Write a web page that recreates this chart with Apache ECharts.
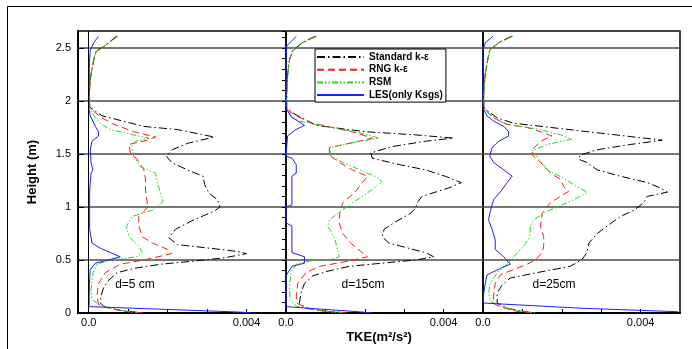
<!DOCTYPE html>
<html>
<head>
<meta charset="utf-8">
<script src="https://cdn.jsdelivr.net/npm/echarts@6/dist/echarts.min.js"></script>
<style>
html, body { margin: 0; background: #fff; }
#chart { width: 692px; height: 349px; }
</style>
</head>
<body>
<div id="chart"></div>
<script>
var models = ['Standard k-ε', 'RNG k-ε', 'RSM', 'LES(only Ksgs)'];
var panelNames = ['d=5 cm', 'd=15cm', 'd=25cm'];
var tkeTicks = [0, 0.001, 0.002, 0.003, 0.004];
var tkeLabels = [0, 0.004];

// [TKE in 1e-3 m2/s2, height in m]
var std5 = [[0.7,2.61],[0.54,2.56],[0.33,2.5],[0.19,2.47],[0.13,2.39],[0.085,2.3],[0.04,2.2],[0.02,2.08],[0.03,1.94],
  [0.34,1.86],[1.4,1.76],[2.25,1.73],[3.18,1.66],[2.5,1.6],[2.12,1.54],[1.97,1.48],[2.1,1.42],[2.5,1.35],[2.9,1.29],
  [2.94,1.21],[3.05,1.13],[3.26,1.07],[3.33,1.0],[3.18,0.96],[2.67,0.88],[2.2,0.79],[2.03,0.71],[2.25,0.645],[3.1,0.61],
  [3.77,0.58],[4.0,0.56],[3.43,0.52],[2.67,0.49],[1.82,0.46],[1.14,0.42],[0.72,0.38],[0.51,0.31],[0.38,0.24],[0.31,0.16],
  [0.3,0.094],[0.38,0.063],[0.72,0.03],[1.23,0.006]];
var rng5 = [[0.72,2.61],[0.55,2.56],[0.34,2.5],[0.19,2.47],[0.13,2.39],[0.085,2.3],[0.04,2.2],[0.02,2.08],[0.02,1.94],
  [0.13,1.9],[0.34,1.84],[0.64,1.78],[1.14,1.71],[1.7,1.66],[1.48,1.63],[1.02,1.59],[1.06,1.51],[1.23,1.45],[1.4,1.35],
  [1.44,1.26],[1.44,1.16],[1.5,1.0],[1.4,0.96],[1.27,0.91],[1.27,0.82],[1.36,0.72],[1.61,0.66],[2.0,0.6],[2.1,0.56],
  [1.4,0.5],[0.8,0.46],[0.42,0.38],[0.25,0.28],[0.21,0.16],[0.25,0.08],[0.47,0.05],[0.89,0.016],[1.4,0.0]];
var rsm5 = [[0.74,2.61],[0.56,2.56],[0.35,2.5],[0.2,2.47],[0.12,2.39],[0.08,2.3],[0.04,2.2],[0.02,2.08],[0.02,1.95],
  [0.04,1.92],[0.13,1.86],[0.3,1.79],[0.55,1.73],[1.14,1.68],[1.53,1.65],[1.19,1.62],[1.1,1.57],[1.14,1.48],[1.31,1.38],
  [1.69,1.32],[1.74,1.23],[1.82,1.13],[1.89,1.05],[1.61,0.97],[1.1,0.91],[0.96,0.82],[1.02,0.72],[1.27,0.63],[1.36,0.57],
  [1.23,0.53],[0.55,0.5],[0.21,0.46],[0.11,0.38],[0.06,0.22],[0.085,0.126],[0.3,0.07],[0.72,0.03],[1.23,0.0]];
var les5 = [[0.25,2.61],[0.13,2.55],[0.04,2.48],[0.02,2.36],[0.01,2.1],[0.0,1.94],[0.04,1.86],[0.17,1.76],[0.25,1.71],
  [0.25,1.67],[0.085,1.62],[0.04,1.54],[0.06,1.42],[0.11,1.35],[0.06,1.32],[0.025,1.16],[0.025,0.79],[0.085,0.66],
  [0.3,0.61],[0.55,0.57],[0.8,0.53],[0.85,0.52],[0.5,0.5],[0.17,0.47],[0.04,0.41],[0.02,0.28],[0.01,0.06],[3.6,0.012],[4.1,0.003]];

var std15 = [[0.74,2.61],[0.41,2.55],[0.25,2.5],[0.16,2.47],[0.09,2.39],[0.045,2.26],[0.02,2.1],[0.02,1.94],
  [0.13,1.9],[0.3,1.86],[0.55,1.81],[0.76,1.77],[2.02,1.71],[3.29,1.68],[4.25,1.65],[3.54,1.62],[2.7,1.57],[2.15,1.51],
  [2.19,1.46],[2.87,1.4],[3.54,1.35],[4.04,1.29],[4.45,1.23],[4.13,1.18],[3.45,1.1],[3.33,1.04],[3.29,0.99],[3.16,0.94],
  [2.78,0.86],[2.49,0.79],[2.44,0.72],[2.61,0.66],[3.12,0.61],[3.54,0.57],[3.75,0.53],[3.29,0.5],[2.44,0.47],[1.6,0.44],
  [1.01,0.39],[0.68,0.35],[0.47,0.28],[0.38,0.19],[0.34,0.094],[0.51,0.047],[1.01,0.016],[1.6,0.0]];
var rng15 = [[0.76,2.61],[0.42,2.55],[0.26,2.5],[0.17,2.47],[0.09,2.39],[0.045,2.26],[0.02,2.1],[0.0,1.94],
  [0.09,1.9],[0.26,1.86],[0.68,1.79],[1.18,1.75],[1.77,1.7],[2.19,1.65],[1.6,1.6],[1.1,1.56],[1.1,1.49],[1.35,1.42],
  [1.69,1.35],[2.07,1.29],[1.94,1.23],[1.73,1.13],[1.44,1.04],[1.37,0.96],[1.35,0.85],[1.44,0.75],[1.64,0.66],[1.9,0.58],
  [2.07,0.53],[1.6,0.49],[0.85,0.44],[0.51,0.38],[0.3,0.28],[0.26,0.16],[0.27,0.094],[0.51,0.047],[1.01,0.016],[1.6,0.0]];
var rsm15 = [[0.78,2.61],[0.43,2.55],[0.27,2.5],[0.17,2.47],[0.09,2.39],[0.045,2.26],[0.02,2.1],[0.01,1.95],
  [0.02,1.92],[0.13,1.86],[0.34,1.81],[1.01,1.76],[1.77,1.71],[2.36,1.65],[1.6,1.6],[1.1,1.56],[1.14,1.48],[1.44,1.42],
  [1.94,1.34],[2.36,1.27],[2.43,1.24],[2.28,1.19],[2.02,1.12],[1.69,1.04],[1.39,0.96],[1.1,0.88],[1.06,0.82],[1.22,0.72],
  [1.31,0.6],[1.35,0.53],[1.18,0.51],[0.59,0.49],[0.26,0.46],[0.13,0.39],[0.09,0.25],[0.1,0.126],[0.26,0.063],[0.76,0.025],[1.43,0.0]];
var les15 = [[0.26,2.61],[0.13,2.56],[0.02,2.52],[0.0,2.4],[0.0,1.95],[0.02,1.92],[0.13,1.85],[0.47,1.77],[0.25,1.73],
  [0.04,1.67],[0.0,1.48],[0.15,1.46],[0.26,1.4],[0.26,1.32],[0.15,1.29],[0.15,1.02],[0.0,1.0],[0.0,0.85],[0.15,0.82],
  [0.15,0.57],[0.47,0.53],[0.47,0.47],[0.15,0.44],[0.0,0.35],[0.0,0.06],[1.9,0.01],[2.2,0.0]];

var std25 = [[0.72,2.61],[0.4,2.55],[0.17,2.48],[0.12,2.39],[0.06,2.26],[0.02,2.1],[0.02,1.94],
  [0.14,1.9],[0.36,1.84],[0.78,1.79],[4.55,1.63],[3.75,1.59],[2.9,1.54],[2.47,1.49],[2.43,1.45],[2.64,1.42],[2.9,1.35],
  [3.49,1.29],[4.17,1.23],[4.5,1.18],[4.68,1.14],[4.17,1.1],[4.08,1.04],[3.83,0.97],[3.49,0.91],[3.15,0.82],[2.9,0.75],
  [2.69,0.66],[2.64,0.57],[2.5,0.5],[2.21,0.44],[1.36,0.38],[0.69,0.33],[0.48,0.26],[0.36,0.19],[0.36,0.094],[0.61,0.047],
  [0.95,0.016],[1.37,0.0]];
var rng25 = [[0.74,2.61],[0.4,2.55],[0.17,2.48],[0.12,2.39],[0.06,2.26],[0.02,2.1],[0.02,1.94],
  [0.1,1.9],[0.27,1.84],[0.61,1.78],[1.12,1.75],[1.54,1.7],[1.75,1.67],[1.46,1.62],[1.25,1.54],[1.25,1.49],[1.46,1.42],
  [1.71,1.32],[1.97,1.26],[2.05,1.19],[2.18,1.15],[1.97,1.1],[1.71,1.04],[1.5,0.94],[1.46,0.82],[1.54,0.72],[1.54,0.63],
  [1.5,0.57],[1.33,0.5],[1.12,0.46],[0.78,0.41],[0.44,0.36],[0.31,0.28],[0.27,0.16],[0.25,0.094],[0.44,0.057],[0.86,0.016],[1.29,0.0]];
var rsm25 = [[0.76,2.61],[0.41,2.55],[0.18,2.48],[0.12,2.39],[0.06,2.26],[0.02,2.1],[0.02,1.95],
  [0.14,1.89],[0.36,1.82],[0.61,1.78],[1.46,1.73],[1.97,1.68],[2.26,1.64],[1.63,1.59],[1.25,1.53],[1.42,1.45],[1.63,1.35],
  [2.05,1.27],[2.39,1.19],[2.64,1.14],[2.47,1.1],[2.14,1.04],[1.63,0.96],[1.29,0.88],[1.2,0.82],[1.19,0.72],[1.03,0.63],
  [0.78,0.53],[0.61,0.46],[0.36,0.38],[0.19,0.28],[0.14,0.19],[0.19,0.11],[0.44,0.063],[0.86,0.025],[1.33,0.0]];
var les25 = [[0.25,2.61],[0.06,2.55],[0.0,2.48],[0.0,1.95],[0.02,1.92],[0.1,1.86],[0.27,1.81],[0.53,1.76],[0.65,1.71],
  [0.65,1.67],[0.4,1.62],[0.23,1.56],[0.17,1.48],[0.27,1.42],[0.53,1.35],[0.74,1.29],[0.61,1.23],[0.48,1.16],[0.27,1.07],
  [0.19,0.97],[0.14,0.88],[0.23,0.79],[0.31,0.69],[0.31,0.6],[0.53,0.53],[0.69,0.46],[0.44,0.42],[0.1,0.36],[0.06,0.28],
  [0.02,0.19],[0.0,0.094],[0.0,0.085],[2.5,0.045],[4.95,0.012]];

var curves = [
  [std5, rng5, rsm5, les5],
  [std15, rng15, rsm15, les15],
  [std25, rng25, rsm25, les25]
];

var font = 'Liberation Sans, Arial, sans-serif';
var lineStyles = [
  { color: '#000000', type: [8, 3, 1.5, 3] },
  { color: '#ff1a1a', type: [7, 4] },
  { color: '#22d622', type: [6, 2, 1.5, 2, 1.5, 2] },
  { color: '#1f1fff', type: 'solid' }
];
var gridBox = [{ left: 78, width: 208 }, { left: 286, width: 197 }, { left: 483, width: 197 }];
var xMin = [-0.00027, 0, 0];

var grids = [], xAxes = [], yAxes = [], series = [];
gridBox.forEach(function (g, i) {
  grids.push({ left: g.left, width: g.width, top: 31, height: 282, show: true,
    borderColor: '#000', borderWidth: 1.5 });
  xAxes.push({
    type: 'value', gridIndex: i, min: xMin[i], max: 0.005,
    axisLine: { show: true, onZero: false, lineStyle: { color: '#000', width: 2 } },
    axisTick: { show: true, inside: true, length: 4, customValues: tkeTicks, lineStyle: { color: '#000' } },
    axisLabel: { customValues: tkeLabels, margin: 4, fontSize: 11, color: '#000', fontFamily: font,
      formatter: function (v) { return v === 0 ? '0.0' : String(v); } },
    splitLine: { show: false }
  });
  yAxes.push({
    type: 'value', gridIndex: i, min: 0, max: 2.66, interval: 0.5,
    name: i === 0 ? 'Height (m)' : '', nameLocation: 'middle', nameGap: 39,
    nameTextStyle: { fontSize: 13, fontWeight: 'bold', color: '#000', fontFamily: font },
    axisLine: { show: i === 0, onZero: false, lineStyle: { color: '#000', width: 2 } },
    axisTick: { show: i === 0, inside: true, length: 6, lineStyle: { color: '#000' } },
    axisLabel: { show: i === 0, showMaxLabel: false, margin: 7, fontSize: 11, color: '#000', fontFamily: font },
    splitLine: { show: true, lineStyle: { color: '#4a4a4a', width: 1.5 } }
  });
  curves[i].forEach(function (pts, k) {
    var s = {
      name: models[k], type: 'line', xAxisIndex: i, yAxisIndex: i,
      data: pts.map(function (p) { return [p[0] / 1000, p[1]]; }),
      symbol: 'none', smooth: false,
      lineStyle: { color: lineStyles[k].color, type: lineStyles[k].type, width: 1 },
      itemStyle: { color: lineStyles[k].color },
      z: 3
    };
    if (i === 0 && k === 3) {
      s.markLine = { silent: true, symbol: 'none', label: { show: false },
        lineStyle: { color: '#000', type: 'solid', width: 1 }, data: [{ xAxis: 0 }] };
    }
    series.push(s);
  });
});
// minor height ticks on the first panel
yAxes.push({
  type: 'value', gridIndex: 0, min: 0, max: 2.66, interval: 0.1,
  axisLine: { show: false, onZero: false },
  axisTick: { show: true, inside: true, length: 4, lineStyle: { color: '#000' } },
  axisLabel: { show: false }, splitLine: { show: false }
});

var chart = echarts.init(document.getElementById('chart'));
chart.setOption({
  animation: false,
  backgroundColor: '#fff',
  grid: grids,
  xAxis: xAxes,
  yAxis: yAxes,
  legend: {
    data: models, orient: 'vertical', left: 315, top: 49,
    itemWidth: 47, itemHeight: 10, itemGap: 2.7, itemTextGap: 7,
    itemStyle: { opacity: 0 },
    padding: [3, 3, 2, 1], backgroundColor: '#fff', borderColor: '#000', borderWidth: 1, borderRadius: 0,
    textStyle: { fontSize: 10, fontWeight: 'bold', color: '#000', fontFamily: font, lineHeight: 10 }
  },
  graphic: [
    { type: 'line', shape: { x1: 7.5, y1: 6.5, x2: 692, y2: 6.5 }, style: { stroke: '#000', lineWidth: 1 } },
    { type: 'line', shape: { x1: 7.5, y1: 6.5, x2: 7.5, y2: 349 }, style: { stroke: '#000', lineWidth: 1 } },
    { type: 'text', x: 135, y: 285, style: { text: panelNames[0], fontSize: 12, fontFamily: font, fill: '#000', align: 'center', verticalAlign: 'middle' } },
    { type: 'text', x: 363, y: 285, style: { text: panelNames[1], fontSize: 12, fontFamily: font, fill: '#000', align: 'center', verticalAlign: 'middle' } },
    { type: 'text', x: 554, y: 285, style: { text: panelNames[2], fontSize: 12, fontFamily: font, fill: '#000', align: 'center', verticalAlign: 'middle' } },
    { type: 'text', x: 379, y: 337, style: { text: 'TKE(m²/s²)', fontSize: 13, fontWeight: 'bold', fontFamily: font, fill: '#000', align: 'center', verticalAlign: 'middle' } }
  ],
  series: series
});
</script>
</body>
</html>
